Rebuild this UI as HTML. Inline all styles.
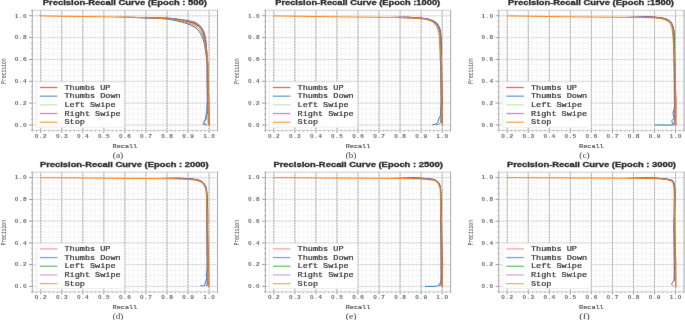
<!DOCTYPE html><html><head><meta charset="utf-8"><style>html,body{margin:0;padding:0;background:#fff;width:685px;height:320px;overflow:hidden}svg{display:block;will-change:transform}</style></head><body>
<svg xmlns="http://www.w3.org/2000/svg" width="685" height="320" viewBox="0 0 685 320">
<rect width="685" height="320" fill="#fff"/>
<defs><filter id="bl" x="0" y="0" width="685" height="320" filterUnits="userSpaceOnUse" color-interpolation-filters="sRGB"><feConvolveMatrix order="3" kernelMatrix="0.00345 0.05875 0.00345 0.05875 1.00000 0.05875 0.00345 0.05875 0.00345" edgeMode="duplicate" preserveAlpha="true"/></filter></defs>
<g filter="url(#bl)"><rect width="685" height="320" fill="#fff"/>
<g><defs><clipPath id="cp0"><rect x="32.3" y="10.3" width="185.2" height="120.1"/></clipPath></defs><path d="M32.3 10.3V130.4M36.51 10.3V130.4M44.93 10.3V130.4M49.14 10.3V130.4M53.35 10.3V130.4M57.55 10.3V130.4M65.97 10.3V130.4M70.18 10.3V130.4M74.39 10.3V130.4M78.6 10.3V130.4M87.02 10.3V130.4M91.23 10.3V130.4M95.44 10.3V130.4M99.65 10.3V130.4M108.06 10.3V130.4M112.27 10.3V130.4M116.48 10.3V130.4M120.69 10.3V130.4M129.11 10.3V130.4M133.32 10.3V130.4M137.53 10.3V130.4M141.74 10.3V130.4M150.15 10.3V130.4M154.36 10.3V130.4M158.57 10.3V130.4M162.78 10.3V130.4M171.2 10.3V130.4M175.41 10.3V130.4M179.62 10.3V130.4M183.83 10.3V130.4M192.25 10.3V130.4M196.45 10.3V130.4M200.66 10.3V130.4M204.87 10.3V130.4M213.29 10.3V130.4M217.5 10.3V130.4M32.3 130.4H217.5M32.3 119.48H217.5M32.3 114.02H217.5M32.3 108.56H217.5M32.3 97.65H217.5M32.3 92.19H217.5M32.3 86.73H217.5M32.3 75.81H217.5M32.3 70.35H217.5M32.3 64.89H217.5M32.3 53.97H217.5M32.3 48.51H217.5M32.3 43.05H217.5M32.3 32.14H217.5M32.3 26.68H217.5M32.3 21.22H217.5M32.3 10.3H217.5" stroke="#f0f0f0" stroke-width="0.7" fill="none"/><path d="M32.3 124.94H217.5M32.3 103.1H217.5M32.3 81.27H217.5M32.3 59.43H217.5M32.3 37.6H217.5M32.3 15.76H217.5" stroke="#e8e8e8" stroke-width="1" fill="none"/><path d="M32.3 124.94H217.5M32.3 103.1H217.5M32.3 81.27H217.5M32.3 59.43H217.5M32.3 37.6H217.5M32.3 15.76H217.5" stroke="#d0d0d0" stroke-width="1" stroke-dasharray="1.1 1.15" fill="none"/><path d="M40.72 10.3V130.4M61.76 10.3V130.4M82.81 10.3V130.4M103.85 10.3V130.4M124.9 10.3V130.4M145.95 10.3V130.4M166.99 10.3V130.4M188.04 10.3V130.4M209.08 10.3V130.4" stroke="#d2d2d2" stroke-width="1" fill="none"/><path d="M40.72 10.3V130.4M61.76 10.3V130.4M82.81 10.3V130.4M103.85 10.3V130.4M124.9 10.3V130.4M145.95 10.3V130.4M166.99 10.3V130.4M188.04 10.3V130.4M209.08 10.3V130.4" stroke="#a4a4a4" stroke-width="1" stroke-dasharray="1.3 1.5" fill="none"/><g clip-path="url(#cp0)" fill="none" stroke-width="1.0" stroke-linejoin="round" stroke-linecap="round"><defs><linearGradient id="lg0" gradientUnits="userSpaceOnUse" x1="114.38" y1="0" x2="135.42" y2="0"><stop offset="0" stop-color="#000"/><stop offset="1" stop-color="#fff"/></linearGradient><mask id="mk0" maskUnits="userSpaceOnUse" x="0" y="0" width="685" height="320"><rect x="0" y="0" width="685" height="320" fill="url(#lg0)"/></mask></defs><g mask="url(#mk0)"><path d="M114.38 17.07C120.34 17.2 140.89 17.6 150.15 17.83C159.41 18.07 164.57 18.05 169.94 18.49C175.3 18.93 179.23 19.91 182.35 20.45C185.48 21 186.56 21.18 188.67 21.76C190.77 22.35 192.91 22.82 194.98 23.95C197.05 25.08 199.54 26.51 201.08 28.53C202.63 30.55 203.43 33.46 204.24 36.07C205.05 38.67 205.47 41.16 205.93 44.15C206.38 47.13 206.72 50.7 206.98 53.97C207.24 57.25 207.33 60.16 207.49 63.8C207.65 67.44 207.76 71.08 207.94 75.81C208.11 80.54 208.38 88 208.54 92.19C208.69 96.37 208.75 95.5 208.86 100.92C208.97 106.34 209.15 120.76 209.21 124.72" stroke="#d62728"/><path d="M114.38 17.07C120.34 17.2 140.89 17.42 150.15 17.83C159.41 18.25 164.57 18.83 169.94 19.58C175.3 20.33 179.23 21.55 182.35 22.31C185.48 23.07 186.56 23.33 188.67 24.17C190.77 25 193.3 26.19 194.98 27.33C196.67 28.48 197.61 29.59 198.77 31.04C199.93 32.5 201.05 34.17 201.93 36.07C202.8 37.96 203.47 40.09 204.03 42.4C204.59 44.71 204.77 46.37 205.29 49.93C205.82 53.5 206.84 59.49 207.18 63.8C207.51 68.11 207.25 71.08 207.29 75.81C207.34 80.54 207.41 88 207.45 92.19C207.49 96.37 207.58 98.25 207.53 100.92C207.49 103.6 207.15 106.36 207.15 108.24C207.16 110.11 207.75 110.84 207.57 112.17C207.4 113.5 206.28 115.19 206.1 116.21C205.93 117.23 206.77 117.44 206.52 118.28C206.28 119.12 205.12 120.48 204.63 121.23C204.14 121.97 203.51 122.41 203.58 122.76C203.65 123.1 204.8 123.21 205.05 123.3" stroke="#1f77b4"/><path d="M114.38 17.07C120.34 17.2 140.89 17.62 150.15 17.83C159.41 18.05 164.57 18 169.94 18.38C175.3 18.76 179.23 19.65 182.35 20.13C185.48 20.6 186.56 20.78 188.67 21.22C190.77 21.65 193.12 21.84 194.98 22.75C196.84 23.66 198.38 24.98 199.82 26.68C201.26 28.37 202.66 30.72 203.61 32.9C204.56 35.08 205.01 36.99 205.5 39.78C206 42.56 206.18 45.6 206.56 49.61C206.93 53.61 207.55 59.43 207.77 63.8C207.99 68.17 207.84 71.08 207.88 75.81C207.93 80.54 208 88 208.04 92.19C208.08 96.37 208.11 96.24 208.12 100.92C208.14 105.6 208.05 116.35 208.12 120.25C208.19 124.14 208.48 123.61 208.55 124.29" stroke="#2ca02c"/><path d="M114.38 17.07C120.34 17.2 140.89 17.63 150.15 17.83C159.41 18.03 164.57 17.94 169.94 18.27C175.3 18.6 179.23 19.38 182.35 19.8C185.48 20.22 186.56 20.36 188.67 20.78C190.77 21.2 193.12 21.55 194.98 22.31C196.84 23.07 198.49 24.11 199.82 25.37C201.15 26.62 202.14 28.28 202.98 29.84C203.82 31.41 204.38 32.88 204.87 34.76C205.36 36.63 205.68 38.56 205.93 41.09C206.17 43.62 206.19 46.15 206.35 49.93C206.5 53.72 206.76 59.49 206.86 63.8C206.97 68.11 206.93 71.08 206.98 75.81C207.02 80.54 207.09 88 207.14 92.19C207.18 96.37 207.3 97.92 207.22 100.92C207.14 103.92 206.86 107.82 206.66 110.2C206.47 112.59 206.31 113.55 206.03 115.22C205.75 116.9 205.47 118.74 204.98 120.25C204.49 121.76 202.74 123.54 203.09 124.29C203.44 125.03 206.42 124.65 207.09 124.72" stroke="#9467bd"/></g><path d="M40.72 15.32C41.6 15.43 35.46 15.72 45.98 15.98C56.5 16.23 86.49 16.54 103.85 16.85C121.22 17.16 139.14 17.45 150.15 17.83C161.17 18.22 164.57 18.58 169.94 19.14C175.3 19.71 179.23 20.53 182.35 21.22C185.48 21.91 186.56 22.6 188.67 23.29C190.77 23.98 193.12 24.28 194.98 25.37C196.84 26.46 198.56 28.26 199.82 29.84C201.08 31.43 201.75 32.99 202.56 34.87C203.36 36.74 204.14 38.58 204.66 41.09C205.19 43.6 205.16 46.15 205.71 49.93C206.27 53.72 207.62 59.49 208.02 63.8C208.42 68.11 208.09 71.08 208.13 75.81C208.18 80.54 208.25 88 208.29 92.19C208.33 96.37 208.27 95.41 208.38 100.92C208.48 106.43 208.82 121.21 208.9 125.27" stroke="#ff7f0e"/></g><path d="M31.9 10.3H217.9M31.9 130.4H217.9" stroke="#c8c8c8" stroke-width="0.8" fill="none"/><path d="M32.3 9.9V130.8M217.5 9.9V130.8" stroke="#a0a0a0" stroke-width="0.9" fill="none"/><path d="M40.72 130.4v2.5M61.76 130.4v2.5M82.81 130.4v2.5M103.85 130.4v2.5M124.9 130.4v2.5M145.95 130.4v2.5M166.99 130.4v2.5M188.04 130.4v2.5M209.08 130.4v2.5M32.3 124.94h-3.3M32.3 103.1h-3.3M32.3 81.27h-3.3M32.3 59.43h-3.3M32.3 37.6h-3.3M32.3 15.76h-3.3" stroke="#808080" stroke-width="0.8" fill="none"/><path d="M32.3 130.4v1.4M36.51 130.4v1.4M44.93 130.4v1.4M49.14 130.4v1.4M53.35 130.4v1.4M57.55 130.4v1.4M65.97 130.4v1.4M70.18 130.4v1.4M74.39 130.4v1.4M78.6 130.4v1.4M87.02 130.4v1.4M91.23 130.4v1.4M95.44 130.4v1.4M99.65 130.4v1.4M108.06 130.4v1.4M112.27 130.4v1.4M116.48 130.4v1.4M120.69 130.4v1.4M129.11 130.4v1.4M133.32 130.4v1.4M137.53 130.4v1.4M141.74 130.4v1.4M150.15 130.4v1.4M154.36 130.4v1.4M158.57 130.4v1.4M162.78 130.4v1.4M171.2 130.4v1.4M175.41 130.4v1.4M179.62 130.4v1.4M183.83 130.4v1.4M192.25 130.4v1.4M196.45 130.4v1.4M200.66 130.4v1.4M204.87 130.4v1.4M213.29 130.4v1.4M217.5 130.4v1.4M32.3 130.4h-1.4M32.3 119.48h-1.4M32.3 114.02h-1.4M32.3 108.56h-1.4M32.3 97.65h-1.4M32.3 92.19h-1.4M32.3 86.73h-1.4M32.3 75.81h-1.4M32.3 70.35h-1.4M32.3 64.89h-1.4M32.3 53.97h-1.4M32.3 48.51h-1.4M32.3 43.05h-1.4M32.3 32.14h-1.4M32.3 26.68h-1.4M32.3 21.22h-1.4M32.3 10.3h-1.4" stroke="#909090" stroke-width="0.6" fill="none"/><g font-family="Liberation Sans" font-weight="bold" font-size="5.0" text-anchor="middle" fill="#686868" stroke="#686868" stroke-width="0"><text transform="translate(36.67 137.5) scale(1.3 1)" x="0 3.12 6.23">0.2</text><text transform="translate(57.71 137.5) scale(1.3 1)" x="0 3.12 6.23">0.3</text><text transform="translate(78.76 137.5) scale(1.3 1)" x="0 3.12 6.23">0.4</text><text transform="translate(99.8 137.5) scale(1.3 1)" x="0 3.12 6.23">0.5</text><text transform="translate(120.85 137.5) scale(1.3 1)" x="0 3.12 6.23">0.6</text><text transform="translate(141.9 137.5) scale(1.3 1)" x="0 3.12 6.23">0.7</text><text transform="translate(162.94 137.5) scale(1.3 1)" x="0 3.12 6.23">0.8</text><text transform="translate(183.99 137.5) scale(1.3 1)" x="0 3.12 6.23">0.9</text><text transform="translate(205.03 137.5) scale(1.3 1)" x="0 3.12 6.23">1.0</text><text transform="translate(16.67 126.74) scale(1.3 1)" x="0 3.12 6.23">0.0</text><text transform="translate(16.67 104.9) scale(1.3 1)" x="0 3.12 6.23">0.2</text><text transform="translate(16.67 83.07) scale(1.3 1)" x="0 3.12 6.23">0.4</text><text transform="translate(16.67 61.23) scale(1.3 1)" x="0 3.12 6.23">0.6</text><text transform="translate(16.67 39.4) scale(1.3 1)" x="0 3.12 6.23">0.8</text><text transform="translate(16.67 17.56) scale(1.3 1)" x="0 3.12 6.23">1.0</text></g><rect x="36.25" y="82" width="88" height="45.2" rx="1.5" fill="#fff" fill-opacity="0.95" stroke="#e6e6e6" stroke-width="0.7"/><path d="M39.8 87.5H57.3" stroke="#e46868" stroke-width="1.3"/><text x="64.5" y="89.7" font-family="Liberation Mono" font-size="6.9" font-weight="normal" fill="#2e2e2e" stroke="#2e2e2e" stroke-width="0.2" textLength="45.9" lengthAdjust="spacingAndGlyphs">Thumbs UP</text><path d="M39.8 96.18H57.3" stroke="#6a9fd2" stroke-width="1.3"/><text x="64.5" y="98.38" font-family="Liberation Mono" font-size="6.9" font-weight="normal" fill="#2e2e2e" stroke="#2e2e2e" stroke-width="0.2" textLength="56.1" lengthAdjust="spacingAndGlyphs">Thumbs Down</text><path d="M39.8 104.86H57.3" stroke="#c6e6c0" stroke-width="1.3"/><text x="64.5" y="107.06" font-family="Liberation Mono" font-size="6.9" font-weight="normal" fill="#2e2e2e" stroke="#2e2e2e" stroke-width="0.2" textLength="51" lengthAdjust="spacingAndGlyphs">Left Swipe</text><path d="M39.8 113.54H57.3" stroke="#bc8fd2" stroke-width="1.3"/><text x="64.5" y="115.74" font-family="Liberation Mono" font-size="6.9" font-weight="normal" fill="#2e2e2e" stroke="#2e2e2e" stroke-width="0.2" textLength="56.1" lengthAdjust="spacingAndGlyphs">Right Swipe</text><path d="M39.8 122.22H57.3" stroke="#ffa54d" stroke-width="1.3"/><text x="64.5" y="124.42" font-family="Liberation Mono" font-size="6.9" font-weight="normal" fill="#2e2e2e" stroke="#2e2e2e" stroke-width="0.2" textLength="20.4" lengthAdjust="spacingAndGlyphs">Stop</text><text x="42.8" y="5.25" font-family="Liberation Sans" font-weight="bold" font-size="6.9" fill="#2a2a2a" stroke="#2a2a2a" stroke-width="0.3" textLength="164.1" lengthAdjust="spacingAndGlyphs">Precision-Recall Curve (Epoch : 500)</text><text x="124.9" y="147.5" text-anchor="middle" font-family="Liberation Mono" font-size="5.8" fill="#444" stroke="#444" stroke-width="0.12" textLength="24.6" lengthAdjust="spacingAndGlyphs">Recall</text><text transform="translate(6 71.05) rotate(-90)" x="0" y="0" text-anchor="middle" font-family="Liberation Mono" font-size="7.0" fill="#4a4a4a" textLength="25.3" lengthAdjust="spacingAndGlyphs">Precision</text><text x="118" y="157.6" text-anchor="middle" font-family="Liberation Serif" font-size="7.4" fill="#383838" textLength="10.5" lengthAdjust="spacingAndGlyphs">(a)</text></g>
<g><defs><clipPath id="cp1"><rect x="265.4" y="10.3" width="185.2" height="120.1"/></clipPath></defs><path d="M265.4 10.3V130.4M269.61 10.3V130.4M278.03 10.3V130.4M282.24 10.3V130.4M286.45 10.3V130.4M290.65 10.3V130.4M299.07 10.3V130.4M303.28 10.3V130.4M307.49 10.3V130.4M311.7 10.3V130.4M320.12 10.3V130.4M324.33 10.3V130.4M328.54 10.3V130.4M332.75 10.3V130.4M341.16 10.3V130.4M345.37 10.3V130.4M349.58 10.3V130.4M353.79 10.3V130.4M362.21 10.3V130.4M366.42 10.3V130.4M370.63 10.3V130.4M374.84 10.3V130.4M383.25 10.3V130.4M387.46 10.3V130.4M391.67 10.3V130.4M395.88 10.3V130.4M404.3 10.3V130.4M408.51 10.3V130.4M412.72 10.3V130.4M416.93 10.3V130.4M425.35 10.3V130.4M429.55 10.3V130.4M433.76 10.3V130.4M437.97 10.3V130.4M446.39 10.3V130.4M450.6 10.3V130.4M265.4 130.4H450.6M265.4 119.48H450.6M265.4 114.02H450.6M265.4 108.56H450.6M265.4 97.65H450.6M265.4 92.19H450.6M265.4 86.73H450.6M265.4 75.81H450.6M265.4 70.35H450.6M265.4 64.89H450.6M265.4 53.97H450.6M265.4 48.51H450.6M265.4 43.05H450.6M265.4 32.14H450.6M265.4 26.68H450.6M265.4 21.22H450.6M265.4 10.3H450.6" stroke="#f0f0f0" stroke-width="0.7" fill="none"/><path d="M265.4 124.94H450.6M265.4 103.1H450.6M265.4 81.27H450.6M265.4 59.43H450.6M265.4 37.6H450.6M265.4 15.76H450.6" stroke="#e8e8e8" stroke-width="1" fill="none"/><path d="M265.4 124.94H450.6M265.4 103.1H450.6M265.4 81.27H450.6M265.4 59.43H450.6M265.4 37.6H450.6M265.4 15.76H450.6" stroke="#d0d0d0" stroke-width="1" stroke-dasharray="1.1 1.15" fill="none"/><path d="M273.82 10.3V130.4M294.86 10.3V130.4M315.91 10.3V130.4M336.95 10.3V130.4M358 10.3V130.4M379.05 10.3V130.4M400.09 10.3V130.4M421.14 10.3V130.4M442.18 10.3V130.4" stroke="#d2d2d2" stroke-width="1" fill="none"/><path d="M273.82 10.3V130.4M294.86 10.3V130.4M315.91 10.3V130.4M336.95 10.3V130.4M358 10.3V130.4M379.05 10.3V130.4M400.09 10.3V130.4M421.14 10.3V130.4M442.18 10.3V130.4" stroke="#a4a4a4" stroke-width="1" stroke-dasharray="1.3 1.5" fill="none"/><g clip-path="url(#cp1)" fill="none" stroke-width="1.0" stroke-linejoin="round" stroke-linecap="round"><defs><linearGradient id="lg1" gradientUnits="userSpaceOnUse" x1="389.57" y1="0" x2="410.61" y2="0"><stop offset="0" stop-color="#000"/><stop offset="1" stop-color="#fff"/></linearGradient><mask id="mk1" maskUnits="userSpaceOnUse" x="0" y="0" width="685" height="320"><rect x="0" y="0" width="685" height="320" fill="url(#lg1)"/></mask></defs><g mask="url(#mk1)"><path d="M389.57 17.39C391.32 17.28 395.36 16.65 400.09 16.74C404.83 16.83 413.45 17.58 417.98 17.94C422.5 18.31 424.75 18.45 427.24 18.93C429.73 19.4 431.34 20.07 432.92 20.78C434.5 21.49 435.69 22.16 436.71 23.18C437.73 24.2 438.43 25.64 439.02 26.9C439.62 28.15 439.97 28.93 440.29 30.72C440.6 32.5 440.74 32.81 440.92 37.6C441.09 42.38 441.29 55.06 441.34 59.43C441.39 63.8 441.17 61.07 441.22 63.8C441.28 66.53 441.49 71.08 441.67 75.81C441.84 80.54 442.12 88 442.27 92.19C442.42 96.37 442.57 95.46 442.59 100.92C442.61 106.38 442.43 120.94 442.39 124.94" stroke="#d62728"/><path d="M389.57 17.39C394.3 17.52 411.7 17.85 417.98 18.16C424.26 18.47 424.75 18.71 427.24 19.25C429.73 19.8 431.34 20.56 432.92 21.44C434.5 22.31 435.73 23.26 436.71 24.49C437.69 25.73 438.29 27.04 438.81 28.86C439.34 30.68 439.62 30.32 439.87 35.41C440.11 40.51 440.11 54.7 440.29 59.43C440.46 64.16 440.79 61.07 440.91 63.8C441.03 66.53 440.98 71.08 441.02 75.81C441.07 80.54 441.14 88 441.18 92.19C441.22 96.37 441.3 98.37 441.27 100.92C441.24 103.47 441.15 105.65 441 107.47C440.85 109.29 440.4 110.57 440.36 111.84C440.33 113.11 441.03 114.02 440.79 115.11C440.54 116.21 439.35 117.3 438.89 118.39C438.44 119.48 438.51 120.76 438.05 121.67C437.59 122.58 437.03 123.34 436.16 123.85C435.28 124.36 433.35 124.58 432.79 124.72" stroke="#1f77b4"/><path d="M389.57 17.39C394.3 17.5 411.7 17.76 417.98 18.05C424.26 18.34 424.75 18.62 427.24 19.14C429.73 19.67 431.31 20.42 432.92 21.22C434.54 22.02 435.87 22.86 436.92 23.95C437.97 25.04 438.64 26.22 439.24 27.77C439.83 29.32 440.18 30.68 440.5 33.23C440.81 35.78 440.96 37.96 441.13 43.05C441.3 48.15 441.42 58.34 441.5 63.8C441.58 69.26 441.57 71.08 441.61 75.81C441.66 80.54 441.73 88 441.77 92.19C441.81 96.37 441.84 97.28 441.86 100.92C441.87 104.56 441.93 110.38 441.86 114.02C441.79 117.66 441.5 121.3 441.43 122.76" stroke="#2ca02c"/><path d="M389.57 17.39C391.32 17.28 395.36 16.65 400.09 16.74C404.83 16.83 413.45 17.58 417.98 17.94C422.5 18.31 424.75 18.45 427.24 18.93C429.73 19.4 431.34 20.07 432.92 20.78C434.5 21.49 435.69 22.16 436.71 23.18C437.73 24.2 438.46 25.59 439.02 26.9C439.59 28.21 439.83 29.26 440.08 31.04C440.32 32.83 440.41 32.14 440.5 37.6C440.58 43.05 440.56 57.43 440.59 63.8C440.63 70.17 440.66 71.08 440.71 75.81C440.75 80.54 440.83 88 440.87 92.19C440.91 96.37 440.94 99.1 440.95 100.92C440.96 102.74 440.99 100.92 440.95 103.1C440.92 105.29 440.85 110.75 440.74 114.02C440.63 117.3 441.09 120.99 440.32 122.76C439.55 124.52 436.81 124.3 436.11 124.61" stroke="#9467bd"/></g><path d="M273.82 15.87C284.34 16.03 319.28 16.61 336.95 16.85C354.63 17.09 369.36 17.18 379.89 17.29C390.41 17.4 393.74 17.31 400.09 17.51C406.44 17.71 413.45 18.11 417.98 18.49C422.5 18.87 424.75 19.18 427.24 19.8C429.73 20.42 431.41 21.16 432.92 22.2C434.43 23.24 435.45 24.77 436.29 26.02C437.13 27.28 437.48 28.17 437.97 29.73C438.46 31.3 438.95 33.06 439.24 35.41C439.52 37.76 439.24 39.09 439.66 43.82C440.08 48.55 441.38 58.47 441.75 63.8C442.12 69.13 441.82 71.08 441.87 75.81C441.91 80.54 441.98 88 442.02 92.19C442.06 96.37 442.08 99.1 442.11 100.92C442.13 102.74 442.13 99.1 442.18 103.1C442.23 107.11 442.36 121.3 442.39 124.94" stroke="#ff7f0e"/></g><path d="M265 10.3H451M265 130.4H451" stroke="#c8c8c8" stroke-width="0.8" fill="none"/><path d="M265.4 9.9V130.8M450.6 9.9V130.8" stroke="#a0a0a0" stroke-width="0.9" fill="none"/><path d="M273.82 130.4v2.5M294.86 130.4v2.5M315.91 130.4v2.5M336.95 130.4v2.5M358 130.4v2.5M379.05 130.4v2.5M400.09 130.4v2.5M421.14 130.4v2.5M442.18 130.4v2.5M265.4 124.94h-3.3M265.4 103.1h-3.3M265.4 81.27h-3.3M265.4 59.43h-3.3M265.4 37.6h-3.3M265.4 15.76h-3.3" stroke="#808080" stroke-width="0.8" fill="none"/><path d="M265.4 130.4v1.4M269.61 130.4v1.4M278.03 130.4v1.4M282.24 130.4v1.4M286.45 130.4v1.4M290.65 130.4v1.4M299.07 130.4v1.4M303.28 130.4v1.4M307.49 130.4v1.4M311.7 130.4v1.4M320.12 130.4v1.4M324.33 130.4v1.4M328.54 130.4v1.4M332.75 130.4v1.4M341.16 130.4v1.4M345.37 130.4v1.4M349.58 130.4v1.4M353.79 130.4v1.4M362.21 130.4v1.4M366.42 130.4v1.4M370.63 130.4v1.4M374.84 130.4v1.4M383.25 130.4v1.4M387.46 130.4v1.4M391.67 130.4v1.4M395.88 130.4v1.4M404.3 130.4v1.4M408.51 130.4v1.4M412.72 130.4v1.4M416.93 130.4v1.4M425.35 130.4v1.4M429.55 130.4v1.4M433.76 130.4v1.4M437.97 130.4v1.4M446.39 130.4v1.4M450.6 130.4v1.4M265.4 130.4h-1.4M265.4 119.48h-1.4M265.4 114.02h-1.4M265.4 108.56h-1.4M265.4 97.65h-1.4M265.4 92.19h-1.4M265.4 86.73h-1.4M265.4 75.81h-1.4M265.4 70.35h-1.4M265.4 64.89h-1.4M265.4 53.97h-1.4M265.4 48.51h-1.4M265.4 43.05h-1.4M265.4 32.14h-1.4M265.4 26.68h-1.4M265.4 21.22h-1.4M265.4 10.3h-1.4" stroke="#909090" stroke-width="0.6" fill="none"/><g font-family="Liberation Sans" font-weight="bold" font-size="5.0" text-anchor="middle" fill="#686868" stroke="#686868" stroke-width="0"><text transform="translate(269.77 137.5) scale(1.3 1)" x="0 3.12 6.23">0.2</text><text transform="translate(290.81 137.5) scale(1.3 1)" x="0 3.12 6.23">0.3</text><text transform="translate(311.86 137.5) scale(1.3 1)" x="0 3.12 6.23">0.4</text><text transform="translate(332.9 137.5) scale(1.3 1)" x="0 3.12 6.23">0.5</text><text transform="translate(353.95 137.5) scale(1.3 1)" x="0 3.12 6.23">0.6</text><text transform="translate(375 137.5) scale(1.3 1)" x="0 3.12 6.23">0.7</text><text transform="translate(396.04 137.5) scale(1.3 1)" x="0 3.12 6.23">0.8</text><text transform="translate(417.09 137.5) scale(1.3 1)" x="0 3.12 6.23">0.9</text><text transform="translate(438.13 137.5) scale(1.3 1)" x="0 3.12 6.23">1.0</text><text transform="translate(249.77 126.74) scale(1.3 1)" x="0 3.12 6.23">0.0</text><text transform="translate(249.77 104.9) scale(1.3 1)" x="0 3.12 6.23">0.2</text><text transform="translate(249.77 83.07) scale(1.3 1)" x="0 3.12 6.23">0.4</text><text transform="translate(249.77 61.23) scale(1.3 1)" x="0 3.12 6.23">0.6</text><text transform="translate(249.77 39.4) scale(1.3 1)" x="0 3.12 6.23">0.8</text><text transform="translate(249.77 17.56) scale(1.3 1)" x="0 3.12 6.23">1.0</text></g><rect x="269.35" y="82" width="88" height="45.2" rx="1.5" fill="#fff" fill-opacity="0.95" stroke="#e6e6e6" stroke-width="0.7"/><path d="M272.9 87.5H290.4" stroke="#e46868" stroke-width="1.3"/><text x="297.6" y="89.7" font-family="Liberation Mono" font-size="6.9" font-weight="normal" fill="#2e2e2e" stroke="#2e2e2e" stroke-width="0.2" textLength="45.9" lengthAdjust="spacingAndGlyphs">Thumbs UP</text><path d="M272.9 96.18H290.4" stroke="#6a9fd2" stroke-width="1.3"/><text x="297.6" y="98.38" font-family="Liberation Mono" font-size="6.9" font-weight="normal" fill="#2e2e2e" stroke="#2e2e2e" stroke-width="0.2" textLength="56.1" lengthAdjust="spacingAndGlyphs">Thumbs Down</text><path d="M272.9 104.86H290.4" stroke="#c6e6c0" stroke-width="1.3"/><text x="297.6" y="107.06" font-family="Liberation Mono" font-size="6.9" font-weight="normal" fill="#2e2e2e" stroke="#2e2e2e" stroke-width="0.2" textLength="51" lengthAdjust="spacingAndGlyphs">Left Swipe</text><path d="M272.9 113.54H290.4" stroke="#bc8fd2" stroke-width="1.3"/><text x="297.6" y="115.74" font-family="Liberation Mono" font-size="6.9" font-weight="normal" fill="#2e2e2e" stroke="#2e2e2e" stroke-width="0.2" textLength="56.1" lengthAdjust="spacingAndGlyphs">Right Swipe</text><path d="M272.9 122.22H290.4" stroke="#ffa54d" stroke-width="1.3"/><text x="297.6" y="124.42" font-family="Liberation Mono" font-size="6.9" font-weight="normal" fill="#2e2e2e" stroke="#2e2e2e" stroke-width="0.2" textLength="20.4" lengthAdjust="spacingAndGlyphs">Stop</text><text x="275.2" y="5.25" font-family="Liberation Sans" font-weight="bold" font-size="6.9" fill="#2a2a2a" stroke="#2a2a2a" stroke-width="0.3" textLength="165" lengthAdjust="spacingAndGlyphs">Precision-Recall Curve (Epoch :1000)</text><text x="358" y="147.5" text-anchor="middle" font-family="Liberation Mono" font-size="5.8" fill="#444" stroke="#444" stroke-width="0.12" textLength="24.6" lengthAdjust="spacingAndGlyphs">Recall</text><text transform="translate(239.1 71.05) rotate(-90)" x="0" y="0" text-anchor="middle" font-family="Liberation Mono" font-size="7.0" fill="#4a4a4a" textLength="25.3" lengthAdjust="spacingAndGlyphs">Precision</text><text x="351.1" y="157.6" text-anchor="middle" font-family="Liberation Serif" font-size="7.4" fill="#383838" textLength="10.5" lengthAdjust="spacingAndGlyphs">(b)</text></g>
<g><defs><clipPath id="cp2"><rect x="498.8" y="10.3" width="185.2" height="120.1"/></clipPath></defs><path d="M498.8 10.3V130.4M503.01 10.3V130.4M511.43 10.3V130.4M515.64 10.3V130.4M519.85 10.3V130.4M524.05 10.3V130.4M532.47 10.3V130.4M536.68 10.3V130.4M540.89 10.3V130.4M545.1 10.3V130.4M553.52 10.3V130.4M557.73 10.3V130.4M561.94 10.3V130.4M566.15 10.3V130.4M574.56 10.3V130.4M578.77 10.3V130.4M582.98 10.3V130.4M587.19 10.3V130.4M595.61 10.3V130.4M599.82 10.3V130.4M604.03 10.3V130.4M608.24 10.3V130.4M616.65 10.3V130.4M620.86 10.3V130.4M625.07 10.3V130.4M629.28 10.3V130.4M637.7 10.3V130.4M641.91 10.3V130.4M646.12 10.3V130.4M650.33 10.3V130.4M658.75 10.3V130.4M662.95 10.3V130.4M667.16 10.3V130.4M671.37 10.3V130.4M679.79 10.3V130.4M684 10.3V130.4M498.8 130.4H684M498.8 119.48H684M498.8 114.02H684M498.8 108.56H684M498.8 97.65H684M498.8 92.19H684M498.8 86.73H684M498.8 75.81H684M498.8 70.35H684M498.8 64.89H684M498.8 53.97H684M498.8 48.51H684M498.8 43.05H684M498.8 32.14H684M498.8 26.68H684M498.8 21.22H684M498.8 10.3H684" stroke="#f0f0f0" stroke-width="0.7" fill="none"/><path d="M498.8 124.94H684M498.8 103.1H684M498.8 81.27H684M498.8 59.43H684M498.8 37.6H684M498.8 15.76H684" stroke="#e8e8e8" stroke-width="1" fill="none"/><path d="M498.8 124.94H684M498.8 103.1H684M498.8 81.27H684M498.8 59.43H684M498.8 37.6H684M498.8 15.76H684" stroke="#d0d0d0" stroke-width="1" stroke-dasharray="1.1 1.15" fill="none"/><path d="M507.22 10.3V130.4M528.26 10.3V130.4M549.31 10.3V130.4M570.35 10.3V130.4M591.4 10.3V130.4M612.45 10.3V130.4M633.49 10.3V130.4M654.54 10.3V130.4M675.58 10.3V130.4" stroke="#d2d2d2" stroke-width="1" fill="none"/><path d="M507.22 10.3V130.4M528.26 10.3V130.4M549.31 10.3V130.4M570.35 10.3V130.4M591.4 10.3V130.4M612.45 10.3V130.4M633.49 10.3V130.4M654.54 10.3V130.4M675.58 10.3V130.4" stroke="#a4a4a4" stroke-width="1" stroke-dasharray="1.3 1.5" fill="none"/><g clip-path="url(#cp2)" fill="none" stroke-width="1.0" stroke-linejoin="round" stroke-linecap="round"><defs><linearGradient id="lg2" gradientUnits="userSpaceOnUse" x1="622.97" y1="0" x2="644.01" y2="0"><stop offset="0" stop-color="#000"/><stop offset="1" stop-color="#fff"/></linearGradient><mask id="mk2" maskUnits="userSpaceOnUse" x="0" y="0" width="685" height="320"><rect x="0" y="0" width="685" height="320" fill="url(#lg2)"/></mask></defs><g mask="url(#mk2)"><path d="M622.97 17.33C624.13 17.22 625.42 16.69 629.91 16.63C634.4 16.57 644.89 16.78 649.91 16.96C654.92 17.14 657.34 17.4 660.01 17.72C662.67 18.05 664.32 18.42 665.9 18.93C667.48 19.43 668.57 20.14 669.48 20.78C670.39 21.42 670.85 21.91 671.37 22.75C671.9 23.58 672.25 24.62 672.64 25.8C673.02 26.99 673.44 28.01 673.69 29.84C673.93 31.68 673.97 31.9 674.11 36.83C674.25 41.76 674.44 54.94 674.53 59.43C674.62 63.93 674.53 61.07 674.62 63.8C674.71 66.53 674.89 71.08 675.07 75.81C675.24 80.54 675.52 88 675.67 92.19C675.82 96.37 675.97 95.46 675.99 100.92C676.01 106.38 675.83 120.94 675.79 124.94" stroke="#d62728"/><path d="M622.97 17.33C624.13 17.23 625.42 16.77 629.91 16.74C634.4 16.72 644.89 16.96 649.91 17.18C654.92 17.4 657.34 17.69 660.01 18.05C662.67 18.42 664.32 18.8 665.9 19.36C667.48 19.93 668.57 20.73 669.48 21.44C670.39 22.15 670.85 22.75 671.37 23.62C671.9 24.49 672.28 25.44 672.64 26.68C672.99 27.91 673.27 29.22 673.48 31.04C673.69 32.86 673.76 32.14 673.9 37.6C674.04 43.05 674.22 57.43 674.31 63.8C674.4 70.17 674.38 71.08 674.42 75.81C674.47 80.54 674.54 88 674.58 92.19C674.62 96.37 674.65 99.1 674.67 100.92C674.68 102.74 674.7 101.89 674.67 103.1C674.63 104.32 674.74 106.54 674.46 108.24C674.18 109.93 673.05 111.58 672.98 113.26C672.91 114.93 674.21 117.12 674.03 118.28C673.86 119.45 672.21 119.43 671.93 120.25C671.65 121.06 672.21 122.41 672.35 123.19C672.49 123.98 675.61 124.65 672.77 124.94C669.93 125.23 658.22 124.94 655.3 124.94" stroke="#1f77b4"/><path d="M622.97 17.33C624.13 17.23 625.42 16.79 629.91 16.74C634.4 16.7 644.89 16.87 649.91 17.07C654.92 17.27 657.34 17.58 660.01 17.94C662.67 18.31 664.32 18.71 665.9 19.25C667.48 19.8 668.53 20.53 669.48 21.22C670.43 21.91 670.99 22.49 671.58 23.4C672.18 24.31 672.67 25.4 673.06 26.68C673.44 27.95 673.69 29.22 673.9 31.04C674.11 32.86 674.15 32.14 674.32 37.6C674.49 43.05 674.78 57.43 674.9 63.8C675.01 70.17 674.97 71.08 675.01 75.81C675.06 80.54 675.13 88 675.17 92.19C675.21 96.37 675.24 97.28 675.26 100.92C675.27 104.56 675.29 110.38 675.26 114.02C675.22 117.66 675.08 121.3 675.05 122.76" stroke="#2ca02c"/><path d="M622.97 17.33C624.13 17.22 625.42 16.69 629.91 16.63C634.4 16.57 644.89 16.78 649.91 16.96C654.92 17.14 657.34 17.4 660.01 17.72C662.67 18.05 664.32 18.42 665.9 18.93C667.48 19.43 668.57 20.14 669.48 20.78C670.39 21.42 670.88 21.91 671.37 22.75C671.86 23.58 672.14 24.62 672.42 25.8C672.71 26.99 672.92 28.01 673.06 29.84C673.2 31.68 673.11 31.17 673.27 36.83C673.42 42.49 673.85 57.3 673.99 63.8C674.13 70.3 674.06 71.08 674.11 75.81C674.15 80.54 674.23 88 674.27 92.19C674.31 96.37 674.34 99.1 674.35 100.92C674.36 102.74 674.34 99.5 674.34 103.1C674.33 106.71 674.51 119.1 674.34 122.54C674.16 125.98 672.97 123.45 673.28 123.74C673.6 124.03 675.74 124.19 676.23 124.29" stroke="#9467bd"/></g><path d="M507.22 15.87C517.74 16.03 549.91 16.6 570.35 16.85C590.8 17.11 616.65 17.25 629.91 17.4C643.17 17.54 644.89 17.54 649.91 17.72C654.92 17.91 657.34 18.07 660.01 18.49C662.67 18.91 664.32 19.53 665.9 20.24C667.48 20.95 668.6 21.82 669.48 22.75C670.36 23.67 670.71 24.62 671.16 25.8C671.62 26.99 671.9 28.01 672.21 29.84C672.53 31.68 672.85 34.5 673.06 36.83C673.27 39.16 673.13 39.32 673.48 43.82C673.83 48.31 674.85 58.47 675.15 63.8C675.45 69.13 675.22 71.08 675.27 75.81C675.31 80.54 675.38 88 675.42 92.19C675.46 96.37 675.48 99.1 675.51 100.92C675.53 102.74 675.52 99.1 675.56 103.1C675.61 107.11 675.75 121.3 675.79 124.94" stroke="#ff7f0e"/></g><path d="M498.4 10.3H684.4M498.4 130.4H684.4" stroke="#c8c8c8" stroke-width="0.8" fill="none"/><path d="M498.8 9.9V130.8M684 9.9V130.8" stroke="#a0a0a0" stroke-width="0.9" fill="none"/><path d="M507.22 130.4v2.5M528.26 130.4v2.5M549.31 130.4v2.5M570.35 130.4v2.5M591.4 130.4v2.5M612.45 130.4v2.5M633.49 130.4v2.5M654.54 130.4v2.5M675.58 130.4v2.5M498.8 124.94h-3.3M498.8 103.1h-3.3M498.8 81.27h-3.3M498.8 59.43h-3.3M498.8 37.6h-3.3M498.8 15.76h-3.3" stroke="#808080" stroke-width="0.8" fill="none"/><path d="M498.8 130.4v1.4M503.01 130.4v1.4M511.43 130.4v1.4M515.64 130.4v1.4M519.85 130.4v1.4M524.05 130.4v1.4M532.47 130.4v1.4M536.68 130.4v1.4M540.89 130.4v1.4M545.1 130.4v1.4M553.52 130.4v1.4M557.73 130.4v1.4M561.94 130.4v1.4M566.15 130.4v1.4M574.56 130.4v1.4M578.77 130.4v1.4M582.98 130.4v1.4M587.19 130.4v1.4M595.61 130.4v1.4M599.82 130.4v1.4M604.03 130.4v1.4M608.24 130.4v1.4M616.65 130.4v1.4M620.86 130.4v1.4M625.07 130.4v1.4M629.28 130.4v1.4M637.7 130.4v1.4M641.91 130.4v1.4M646.12 130.4v1.4M650.33 130.4v1.4M658.75 130.4v1.4M662.95 130.4v1.4M667.16 130.4v1.4M671.37 130.4v1.4M679.79 130.4v1.4M684 130.4v1.4M498.8 130.4h-1.4M498.8 119.48h-1.4M498.8 114.02h-1.4M498.8 108.56h-1.4M498.8 97.65h-1.4M498.8 92.19h-1.4M498.8 86.73h-1.4M498.8 75.81h-1.4M498.8 70.35h-1.4M498.8 64.89h-1.4M498.8 53.97h-1.4M498.8 48.51h-1.4M498.8 43.05h-1.4M498.8 32.14h-1.4M498.8 26.68h-1.4M498.8 21.22h-1.4M498.8 10.3h-1.4" stroke="#909090" stroke-width="0.6" fill="none"/><g font-family="Liberation Sans" font-weight="bold" font-size="5.0" text-anchor="middle" fill="#686868" stroke="#686868" stroke-width="0"><text transform="translate(503.17 137.5) scale(1.3 1)" x="0 3.12 6.23">0.2</text><text transform="translate(524.21 137.5) scale(1.3 1)" x="0 3.12 6.23">0.3</text><text transform="translate(545.26 137.5) scale(1.3 1)" x="0 3.12 6.23">0.4</text><text transform="translate(566.3 137.5) scale(1.3 1)" x="0 3.12 6.23">0.5</text><text transform="translate(587.35 137.5) scale(1.3 1)" x="0 3.12 6.23">0.6</text><text transform="translate(608.4 137.5) scale(1.3 1)" x="0 3.12 6.23">0.7</text><text transform="translate(629.44 137.5) scale(1.3 1)" x="0 3.12 6.23">0.8</text><text transform="translate(650.49 137.5) scale(1.3 1)" x="0 3.12 6.23">0.9</text><text transform="translate(671.53 137.5) scale(1.3 1)" x="0 3.12 6.23">1.0</text><text transform="translate(483.18 126.74) scale(1.3 1)" x="0 3.12 6.23">0.0</text><text transform="translate(483.18 104.9) scale(1.3 1)" x="0 3.12 6.23">0.2</text><text transform="translate(483.18 83.07) scale(1.3 1)" x="0 3.12 6.23">0.4</text><text transform="translate(483.18 61.23) scale(1.3 1)" x="0 3.12 6.23">0.6</text><text transform="translate(483.18 39.4) scale(1.3 1)" x="0 3.12 6.23">0.8</text><text transform="translate(483.18 17.56) scale(1.3 1)" x="0 3.12 6.23">1.0</text></g><rect x="502.75" y="82" width="88" height="45.2" rx="1.5" fill="#fff" fill-opacity="0.95" stroke="#e6e6e6" stroke-width="0.7"/><path d="M506.3 87.5H523.8" stroke="#e46868" stroke-width="1.3"/><text x="531" y="89.7" font-family="Liberation Mono" font-size="6.9" font-weight="normal" fill="#2e2e2e" stroke="#2e2e2e" stroke-width="0.2" textLength="45.9" lengthAdjust="spacingAndGlyphs">Thumbs UP</text><path d="M506.3 96.18H523.8" stroke="#6a9fd2" stroke-width="1.3"/><text x="531" y="98.38" font-family="Liberation Mono" font-size="6.9" font-weight="normal" fill="#2e2e2e" stroke="#2e2e2e" stroke-width="0.2" textLength="56.1" lengthAdjust="spacingAndGlyphs">Thumbs Down</text><path d="M506.3 104.86H523.8" stroke="#c6e6c0" stroke-width="1.3"/><text x="531" y="107.06" font-family="Liberation Mono" font-size="6.9" font-weight="normal" fill="#2e2e2e" stroke="#2e2e2e" stroke-width="0.2" textLength="51" lengthAdjust="spacingAndGlyphs">Left Swipe</text><path d="M506.3 113.54H523.8" stroke="#bc8fd2" stroke-width="1.3"/><text x="531" y="115.74" font-family="Liberation Mono" font-size="6.9" font-weight="normal" fill="#2e2e2e" stroke="#2e2e2e" stroke-width="0.2" textLength="56.1" lengthAdjust="spacingAndGlyphs">Right Swipe</text><path d="M506.3 122.22H523.8" stroke="#ffa54d" stroke-width="1.3"/><text x="531" y="124.42" font-family="Liberation Mono" font-size="6.9" font-weight="normal" fill="#2e2e2e" stroke="#2e2e2e" stroke-width="0.2" textLength="20.4" lengthAdjust="spacingAndGlyphs">Stop</text><text x="508.1" y="5.25" font-family="Liberation Sans" font-weight="bold" font-size="6.9" fill="#2a2a2a" stroke="#2a2a2a" stroke-width="0.3" textLength="165.9" lengthAdjust="spacingAndGlyphs">Precision-Recall Curve (Epoch :1500)</text><text x="591.4" y="147.5" text-anchor="middle" font-family="Liberation Mono" font-size="5.8" fill="#444" stroke="#444" stroke-width="0.12" textLength="24.6" lengthAdjust="spacingAndGlyphs">Recall</text><text transform="translate(472.5 71.05) rotate(-90)" x="0" y="0" text-anchor="middle" font-family="Liberation Mono" font-size="7.0" fill="#4a4a4a" textLength="25.3" lengthAdjust="spacingAndGlyphs">Precision</text><text x="584.5" y="157.6" text-anchor="middle" font-family="Liberation Serif" font-size="7.4" fill="#383838" textLength="10.5" lengthAdjust="spacingAndGlyphs">(c)</text></g>
<g><defs><clipPath id="cp3"><rect x="32.3" y="172.2" width="185.2" height="119.6"/></clipPath></defs><path d="M32.3 172.2V291.8M36.51 172.2V291.8M44.93 172.2V291.8M49.14 172.2V291.8M53.35 172.2V291.8M57.55 172.2V291.8M65.97 172.2V291.8M70.18 172.2V291.8M74.39 172.2V291.8M78.6 172.2V291.8M87.02 172.2V291.8M91.23 172.2V291.8M95.44 172.2V291.8M99.65 172.2V291.8M108.06 172.2V291.8M112.27 172.2V291.8M116.48 172.2V291.8M120.69 172.2V291.8M129.11 172.2V291.8M133.32 172.2V291.8M137.53 172.2V291.8M141.74 172.2V291.8M150.15 172.2V291.8M154.36 172.2V291.8M158.57 172.2V291.8M162.78 172.2V291.8M171.2 172.2V291.8M175.41 172.2V291.8M179.62 172.2V291.8M183.83 172.2V291.8M192.25 172.2V291.8M196.45 172.2V291.8M200.66 172.2V291.8M204.87 172.2V291.8M213.29 172.2V291.8M217.5 172.2V291.8M32.3 291.8H217.5M32.3 280.93H217.5M32.3 275.49H217.5M32.3 270.05H217.5M32.3 259.18H217.5M32.3 253.75H217.5M32.3 248.31H217.5M32.3 237.44H217.5M32.3 232H217.5M32.3 226.56H217.5M32.3 215.69H217.5M32.3 210.25H217.5M32.3 204.82H217.5M32.3 193.95H217.5M32.3 188.51H217.5M32.3 183.07H217.5M32.3 172.2H217.5" stroke="#f0f0f0" stroke-width="0.7" fill="none"/><path d="M32.3 286.36H217.5M32.3 264.62H217.5M32.3 242.87H217.5M32.3 221.13H217.5M32.3 199.38H217.5M32.3 177.64H217.5" stroke="#e8e8e8" stroke-width="1" fill="none"/><path d="M32.3 286.36H217.5M32.3 264.62H217.5M32.3 242.87H217.5M32.3 221.13H217.5M32.3 199.38H217.5M32.3 177.64H217.5" stroke="#d0d0d0" stroke-width="1" stroke-dasharray="1.1 1.15" fill="none"/><path d="M40.72 172.2V291.8M61.76 172.2V291.8M82.81 172.2V291.8M103.85 172.2V291.8M124.9 172.2V291.8M145.95 172.2V291.8M166.99 172.2V291.8M188.04 172.2V291.8M209.08 172.2V291.8" stroke="#d2d2d2" stroke-width="1" fill="none"/><path d="M40.72 172.2V291.8M61.76 172.2V291.8M82.81 172.2V291.8M103.85 172.2V291.8M124.9 172.2V291.8M145.95 172.2V291.8M166.99 172.2V291.8M188.04 172.2V291.8M209.08 172.2V291.8" stroke="#a4a4a4" stroke-width="1" stroke-dasharray="1.3 1.5" fill="none"/><g clip-path="url(#cp3)" fill="none" stroke-width="1.0" stroke-linejoin="round" stroke-linecap="round"><defs><linearGradient id="lg3" gradientUnits="userSpaceOnUse" x1="156.47" y1="0" x2="177.51" y2="0"><stop offset="0" stop-color="#000"/><stop offset="1" stop-color="#fff"/></linearGradient><mask id="mk3" maskUnits="userSpaceOnUse" x="0" y="0" width="685" height="320"><rect x="0" y="0" width="685" height="320" fill="url(#lg3)"/></mask></defs><g mask="url(#mk3)"><path d="M156.47 178.65C157.87 178.61 160.99 178.42 164.89 178.4C168.78 178.37 175.65 178.4 179.83 178.51C184 178.61 187.26 178.85 189.93 179.05C192.6 179.25 194.17 179.41 195.82 179.7C197.47 179.99 198.63 180.26 199.82 180.79C201.01 181.31 202.14 182.08 202.98 182.86C203.82 183.63 204.35 184.52 204.87 185.46C205.4 186.41 205.82 187.28 206.14 188.51C206.45 189.74 206.56 190.86 206.77 192.86C206.98 194.85 207.22 195.76 207.4 200.47C207.57 205.18 207.84 216.96 207.82 221.13C207.8 225.3 207.3 222.76 207.28 225.48C207.27 228.19 207.55 232.72 207.73 237.44C207.9 242.15 208.17 249.58 208.33 253.75C208.48 257.91 208.57 257.01 208.65 262.44C208.73 267.88 208.78 282.38 208.8 286.36" stroke="#d62728"/><path d="M156.47 178.65C157.87 178.61 160.99 178.44 164.89 178.4C168.78 178.36 175.65 178.31 179.83 178.4C184 178.49 187.26 178.74 189.93 178.94C192.6 179.14 194.17 179.3 195.82 179.59C197.47 179.88 198.63 180.16 199.82 180.68C201.01 181.21 202.14 181.99 202.98 182.75C203.82 183.51 204.38 184.29 204.87 185.25C205.36 186.21 205.68 187.24 205.93 188.51C206.17 189.78 206.24 190.86 206.35 192.86C206.45 194.85 206.45 195.03 206.56 200.47C206.66 205.91 206.88 219.32 206.97 225.48C207.05 231.64 207.04 232.72 207.08 237.44C207.13 242.15 207.2 249.58 207.24 253.75C207.28 257.91 207.32 260.05 207.32 262.44C207.33 264.84 207.47 266 207.29 268.1C207.11 270.2 206.31 273.39 206.24 275.06C206.17 276.72 207.01 276.92 206.87 278.1C206.73 279.28 205.82 280.87 205.4 282.12C204.98 283.37 205.12 285.02 204.35 285.6C203.57 286.18 201.36 285.6 200.77 285.6" stroke="#1f77b4"/><path d="M156.47 178.65C157.87 178.61 160.99 178.44 164.89 178.4C168.78 178.36 175.65 178.31 179.83 178.4C184 178.49 187.26 178.74 189.93 178.94C192.6 179.14 194.17 179.32 195.82 179.59C197.47 179.87 198.63 180.08 199.82 180.57C201.01 181.06 202.1 181.75 202.98 182.53C203.86 183.31 204.52 184.25 205.08 185.25C205.64 186.24 206.03 187.24 206.35 188.51C206.66 189.78 206.8 190.86 206.98 192.86C207.15 194.85 207.3 195.03 207.4 200.47C207.49 205.91 207.51 219.32 207.56 225.48C207.6 231.64 207.63 232.72 207.67 237.44C207.72 242.15 207.79 249.58 207.83 253.75C207.87 257.91 207.9 258.82 207.91 262.44C207.93 266.07 207.95 271.87 207.91 275.49C207.88 279.12 207.74 282.74 207.7 284.19" stroke="#2ca02c"/><path d="M156.47 178.65C157.87 178.57 160.99 178.26 164.89 178.18C168.78 178.1 175.65 178.07 179.83 178.18C184 178.29 187.26 178.61 189.93 178.83C192.6 179.05 194.17 179.21 195.82 179.48C197.47 179.76 198.63 179.96 199.82 180.46C201.01 180.97 202.14 181.77 202.98 182.53C203.82 183.29 204.35 184.12 204.87 185.03C205.4 185.94 205.85 186.81 206.14 187.97C206.42 189.13 206.45 189.98 206.56 191.99C206.66 194 206.75 194.45 206.77 200.03C206.78 205.62 206.65 219.24 206.65 225.48C206.65 231.71 206.72 232.72 206.77 237.44C206.81 242.15 206.88 249.58 206.92 253.75C206.96 257.91 207 260.63 207.01 262.44C207.02 264.26 207 261.03 206.99 264.62C206.99 268.21 207.17 280.56 206.99 283.97C206.82 287.38 205.84 284.81 205.94 285.06C206.05 285.31 207.35 285.42 207.63 285.49" stroke="#9467bd"/></g><path d="M40.72 177.64C51.24 177.73 83.16 178 103.85 178.18C124.55 178.36 152.22 178.58 164.89 178.72C177.55 178.87 175.65 178.9 179.83 179.05C184 179.19 187.26 179.38 189.93 179.59C192.6 179.81 194.17 180.03 195.82 180.35C197.47 180.68 198.73 181.03 199.82 181.55C200.91 182.08 201.58 182.76 202.35 183.51C203.12 184.25 203.89 185.08 204.45 186.01C205.01 186.93 205.4 187.89 205.71 189.05C206.03 190.21 206.21 191.14 206.35 192.97C206.49 194.8 206.49 197.86 206.56 200.03C206.63 202.21 206.56 201.77 206.77 206.01C206.98 210.25 207.62 220.24 207.81 225.48C208 230.71 207.88 232.72 207.92 237.44C207.97 242.15 208.04 249.58 208.08 253.75C208.12 257.91 208.14 260.63 208.17 262.44C208.19 264.26 208.15 260.63 208.24 264.62C208.32 268.6 208.59 282.74 208.66 286.36" stroke="#ff7f0e"/></g><path d="M31.9 172.2H217.9M31.9 291.8H217.9" stroke="#c8c8c8" stroke-width="0.8" fill="none"/><path d="M32.3 171.8V292.2M217.5 171.8V292.2" stroke="#a0a0a0" stroke-width="0.9" fill="none"/><path d="M40.72 291.8v2.5M61.76 291.8v2.5M82.81 291.8v2.5M103.85 291.8v2.5M124.9 291.8v2.5M145.95 291.8v2.5M166.99 291.8v2.5M188.04 291.8v2.5M209.08 291.8v2.5M32.3 286.36h-3.3M32.3 264.62h-3.3M32.3 242.87h-3.3M32.3 221.13h-3.3M32.3 199.38h-3.3M32.3 177.64h-3.3" stroke="#808080" stroke-width="0.8" fill="none"/><path d="M32.3 291.8v1.4M36.51 291.8v1.4M44.93 291.8v1.4M49.14 291.8v1.4M53.35 291.8v1.4M57.55 291.8v1.4M65.97 291.8v1.4M70.18 291.8v1.4M74.39 291.8v1.4M78.6 291.8v1.4M87.02 291.8v1.4M91.23 291.8v1.4M95.44 291.8v1.4M99.65 291.8v1.4M108.06 291.8v1.4M112.27 291.8v1.4M116.48 291.8v1.4M120.69 291.8v1.4M129.11 291.8v1.4M133.32 291.8v1.4M137.53 291.8v1.4M141.74 291.8v1.4M150.15 291.8v1.4M154.36 291.8v1.4M158.57 291.8v1.4M162.78 291.8v1.4M171.2 291.8v1.4M175.41 291.8v1.4M179.62 291.8v1.4M183.83 291.8v1.4M192.25 291.8v1.4M196.45 291.8v1.4M200.66 291.8v1.4M204.87 291.8v1.4M213.29 291.8v1.4M217.5 291.8v1.4M32.3 291.8h-1.4M32.3 280.93h-1.4M32.3 275.49h-1.4M32.3 270.05h-1.4M32.3 259.18h-1.4M32.3 253.75h-1.4M32.3 248.31h-1.4M32.3 237.44h-1.4M32.3 232h-1.4M32.3 226.56h-1.4M32.3 215.69h-1.4M32.3 210.25h-1.4M32.3 204.82h-1.4M32.3 193.95h-1.4M32.3 188.51h-1.4M32.3 183.07h-1.4M32.3 172.2h-1.4" stroke="#909090" stroke-width="0.6" fill="none"/><g font-family="Liberation Sans" font-weight="bold" font-size="5.0" text-anchor="middle" fill="#686868" stroke="#686868" stroke-width="0"><text transform="translate(36.67 298.9) scale(1.3 1)" x="0 3.12 6.23">0.2</text><text transform="translate(57.71 298.9) scale(1.3 1)" x="0 3.12 6.23">0.3</text><text transform="translate(78.76 298.9) scale(1.3 1)" x="0 3.12 6.23">0.4</text><text transform="translate(99.8 298.9) scale(1.3 1)" x="0 3.12 6.23">0.5</text><text transform="translate(120.85 298.9) scale(1.3 1)" x="0 3.12 6.23">0.6</text><text transform="translate(141.9 298.9) scale(1.3 1)" x="0 3.12 6.23">0.7</text><text transform="translate(162.94 298.9) scale(1.3 1)" x="0 3.12 6.23">0.8</text><text transform="translate(183.99 298.9) scale(1.3 1)" x="0 3.12 6.23">0.9</text><text transform="translate(205.03 298.9) scale(1.3 1)" x="0 3.12 6.23">1.0</text><text transform="translate(16.67 288.16) scale(1.3 1)" x="0 3.12 6.23">0.0</text><text transform="translate(16.67 266.42) scale(1.3 1)" x="0 3.12 6.23">0.2</text><text transform="translate(16.67 244.67) scale(1.3 1)" x="0 3.12 6.23">0.4</text><text transform="translate(16.67 222.93) scale(1.3 1)" x="0 3.12 6.23">0.6</text><text transform="translate(16.67 201.18) scale(1.3 1)" x="0 3.12 6.23">0.8</text><text transform="translate(16.67 179.44) scale(1.3 1)" x="0 3.12 6.23">1.0</text></g><rect x="36.25" y="243.4" width="88" height="45.2" rx="1.5" fill="#fff" fill-opacity="0.95" stroke="#e6e6e6" stroke-width="0.7"/><path d="M39.8 248.9H57.3" stroke="#f2a2a2" stroke-width="1.3"/><text x="64.5" y="251.1" font-family="Liberation Mono" font-size="6.9" font-weight="normal" fill="#2e2e2e" stroke="#2e2e2e" stroke-width="0.2" textLength="45.9" lengthAdjust="spacingAndGlyphs">Thumbs UP</text><path d="M39.8 257.58H57.3" stroke="#74a6da" stroke-width="1.3"/><text x="64.5" y="259.78" font-family="Liberation Mono" font-size="6.9" font-weight="normal" fill="#2e2e2e" stroke="#2e2e2e" stroke-width="0.2" textLength="56.1" lengthAdjust="spacingAndGlyphs">Thumbs Down</text><path d="M39.8 266.26H57.3" stroke="#70c070" stroke-width="1.3"/><text x="64.5" y="268.46" font-family="Liberation Mono" font-size="6.9" font-weight="normal" fill="#2e2e2e" stroke="#2e2e2e" stroke-width="0.2" textLength="51" lengthAdjust="spacingAndGlyphs">Left Swipe</text><path d="M39.8 274.94H57.3" stroke="#d2a8e2" stroke-width="1.3"/><text x="64.5" y="277.14" font-family="Liberation Mono" font-size="6.9" font-weight="normal" fill="#2e2e2e" stroke="#2e2e2e" stroke-width="0.2" textLength="56.1" lengthAdjust="spacingAndGlyphs">Right Swipe</text><path d="M39.8 283.62H57.3" stroke="#ffaa55" stroke-width="1.3"/><text x="64.5" y="285.82" font-family="Liberation Mono" font-size="6.9" font-weight="normal" fill="#2e2e2e" stroke="#2e2e2e" stroke-width="0.2" textLength="20.4" lengthAdjust="spacingAndGlyphs">Stop</text><text x="39.9" y="166.8" font-family="Liberation Sans" font-weight="bold" font-size="6.9" fill="#2a2a2a" stroke="#2a2a2a" stroke-width="0.3" textLength="168.8" lengthAdjust="spacingAndGlyphs">Precision-Recall Curve (Epoch : 2000)</text><text x="124.9" y="308.9" text-anchor="middle" font-family="Liberation Mono" font-size="5.8" fill="#444" stroke="#444" stroke-width="0.12" textLength="24.6" lengthAdjust="spacingAndGlyphs">Recall</text><text transform="translate(6 232.7) rotate(-90)" x="0" y="0" text-anchor="middle" font-family="Liberation Mono" font-size="7.0" fill="#4a4a4a" textLength="25.3" lengthAdjust="spacingAndGlyphs">Precision</text><text x="118" y="319" text-anchor="middle" font-family="Liberation Serif" font-size="7.4" fill="#383838" textLength="10.5" lengthAdjust="spacingAndGlyphs">(d)</text></g>
<g><defs><clipPath id="cp4"><rect x="265.4" y="172.2" width="185.2" height="119.6"/></clipPath></defs><path d="M265.4 172.2V291.8M269.61 172.2V291.8M278.03 172.2V291.8M282.24 172.2V291.8M286.45 172.2V291.8M290.65 172.2V291.8M299.07 172.2V291.8M303.28 172.2V291.8M307.49 172.2V291.8M311.7 172.2V291.8M320.12 172.2V291.8M324.33 172.2V291.8M328.54 172.2V291.8M332.75 172.2V291.8M341.16 172.2V291.8M345.37 172.2V291.8M349.58 172.2V291.8M353.79 172.2V291.8M362.21 172.2V291.8M366.42 172.2V291.8M370.63 172.2V291.8M374.84 172.2V291.8M383.25 172.2V291.8M387.46 172.2V291.8M391.67 172.2V291.8M395.88 172.2V291.8M404.3 172.2V291.8M408.51 172.2V291.8M412.72 172.2V291.8M416.93 172.2V291.8M425.35 172.2V291.8M429.55 172.2V291.8M433.76 172.2V291.8M437.97 172.2V291.8M446.39 172.2V291.8M450.6 172.2V291.8M265.4 291.8H450.6M265.4 280.93H450.6M265.4 275.49H450.6M265.4 270.05H450.6M265.4 259.18H450.6M265.4 253.75H450.6M265.4 248.31H450.6M265.4 237.44H450.6M265.4 232H450.6M265.4 226.56H450.6M265.4 215.69H450.6M265.4 210.25H450.6M265.4 204.82H450.6M265.4 193.95H450.6M265.4 188.51H450.6M265.4 183.07H450.6M265.4 172.2H450.6" stroke="#f0f0f0" stroke-width="0.7" fill="none"/><path d="M265.4 286.36H450.6M265.4 264.62H450.6M265.4 242.87H450.6M265.4 221.13H450.6M265.4 199.38H450.6M265.4 177.64H450.6" stroke="#e8e8e8" stroke-width="1" fill="none"/><path d="M265.4 286.36H450.6M265.4 264.62H450.6M265.4 242.87H450.6M265.4 221.13H450.6M265.4 199.38H450.6M265.4 177.64H450.6" stroke="#d0d0d0" stroke-width="1" stroke-dasharray="1.1 1.15" fill="none"/><path d="M273.82 172.2V291.8M294.86 172.2V291.8M315.91 172.2V291.8M336.95 172.2V291.8M358 172.2V291.8M379.05 172.2V291.8M400.09 172.2V291.8M421.14 172.2V291.8M442.18 172.2V291.8" stroke="#d2d2d2" stroke-width="1" fill="none"/><path d="M273.82 172.2V291.8M294.86 172.2V291.8M315.91 172.2V291.8M336.95 172.2V291.8M358 172.2V291.8M379.05 172.2V291.8M400.09 172.2V291.8M421.14 172.2V291.8M442.18 172.2V291.8" stroke="#a4a4a4" stroke-width="1" stroke-dasharray="1.3 1.5" fill="none"/><g clip-path="url(#cp4)" fill="none" stroke-width="1.0" stroke-linejoin="round" stroke-linecap="round"><defs><linearGradient id="lg4" gradientUnits="userSpaceOnUse" x1="389.57" y1="0" x2="410.61" y2="0"><stop offset="0" stop-color="#000"/><stop offset="1" stop-color="#fff"/></linearGradient><mask id="mk4" maskUnits="userSpaceOnUse" x="0" y="0" width="685" height="320"><rect x="0" y="0" width="685" height="320" fill="url(#lg4)"/></mask></defs><g mask="url(#mk4)"><path d="M389.57 178.35C390.97 178.32 393.92 178.21 397.99 178.18C402.06 178.15 409.67 178.11 413.98 178.18C418.3 178.25 421.21 178.43 423.87 178.61C426.54 178.8 428.29 179.07 429.98 179.27C431.66 179.47 432.82 179.47 433.97 179.81C435.13 180.16 436.11 180.72 436.92 181.33C437.73 181.95 438.29 182.64 438.81 183.51C439.34 184.38 439.76 185.36 440.08 186.55C440.39 187.75 440.53 188.44 440.71 190.68C440.88 192.93 441.04 194.24 441.13 200.03C441.22 205.83 441.13 219.24 441.22 225.48C441.31 231.71 441.49 232.72 441.67 237.44C441.84 242.15 442.12 249.58 442.27 253.75C442.42 257.91 442.53 260.63 442.59 262.44C442.65 264.26 442.65 260.63 442.62 264.62C442.59 268.6 442.43 282.74 442.39 286.36" stroke="#d62728"/><path d="M389.57 178.35C390.97 178.31 393.92 178.14 397.99 178.07C402.06 178.01 409.67 177.91 413.98 177.96C418.3 178.02 421.21 178.22 423.87 178.4C426.54 178.58 428.29 178.87 429.98 179.05C431.66 179.23 432.82 179.16 433.97 179.48C435.13 179.81 436.11 180.43 436.92 181.01C437.73 181.59 438.29 182.13 438.81 182.96C439.34 183.8 439.76 184.83 440.08 186.01C440.39 187.19 440.6 187.69 440.71 190.03C440.81 192.37 440.68 194.13 440.71 200.03C440.74 205.94 440.86 219.24 440.91 225.48C440.96 231.71 440.98 232.72 441.02 237.44C441.07 242.15 441.14 249.58 441.18 253.75C441.22 257.91 441.27 260.05 441.27 262.44C441.26 264.84 441.15 266.29 441.17 268.1C441.19 269.91 441.41 271.9 441.38 273.32C441.34 274.73 440.99 275.45 440.96 276.58C440.92 277.7 441.38 278.81 441.17 280.06C440.96 281.31 440.29 283.16 439.69 284.08C439.1 285 438.29 285.22 437.59 285.6C436.89 285.98 437.48 286.24 435.49 286.36C433.49 286.49 427.24 286.36 425.59 286.36" stroke="#1f77b4"/><path d="M389.57 178.35C390.97 178.32 393.92 178.23 397.99 178.18C402.06 178.13 409.67 178.02 413.98 178.07C418.3 178.13 421.21 178.32 423.87 178.51C426.54 178.69 428.29 178.96 429.98 179.16C431.66 179.36 432.82 179.36 433.97 179.7C435.13 180.05 436.11 180.63 436.92 181.22C437.73 181.82 438.29 182.44 438.81 183.29C439.34 184.14 439.76 185.16 440.08 186.33C440.39 187.51 440.57 188.07 440.71 190.36C440.85 192.64 440.79 194.18 440.92 200.03C441.05 205.89 441.38 219.24 441.5 225.48C441.61 231.71 441.57 232.72 441.61 237.44C441.66 242.15 441.73 249.58 441.77 253.75C441.81 257.91 441.84 258.82 441.86 262.44C441.87 266.07 441.89 271.87 441.86 275.49C441.82 279.12 441.68 282.74 441.65 284.19" stroke="#2ca02c"/><path d="M389.57 178.35C390.97 178.31 393.92 178.14 397.99 178.07C402.06 178.01 409.67 177.91 413.98 177.96C418.3 178.02 421.21 178.22 423.87 178.4C426.54 178.58 428.29 178.87 429.98 179.05C431.66 179.23 432.82 179.16 433.97 179.48C435.13 179.81 436.11 180.43 436.92 181.01C437.73 181.59 438.29 182.13 438.81 182.96C439.34 183.8 439.8 184.83 440.08 186.01C440.36 187.19 440.43 187.69 440.5 190.03C440.57 192.37 440.48 194.13 440.5 200.03C440.51 205.94 440.56 219.24 440.59 225.48C440.63 231.71 440.66 232.72 440.71 237.44C440.75 242.15 440.83 249.58 440.87 253.75C440.91 257.91 440.94 260.63 440.95 262.44C440.96 264.26 440.94 261.18 440.94 264.62C440.93 268.06 441.25 279.7 440.94 283.1C440.62 286.51 438.94 284.62 439.04 285.06C439.15 285.49 441.15 285.6 441.57 285.71" stroke="#9467bd"/></g><path d="M273.82 177.64C284.34 177.71 316.26 177.94 336.95 178.07C357.65 178.2 385.15 178.27 397.99 178.4C410.82 178.52 409.67 178.69 413.98 178.83C418.3 178.98 421.21 179.09 423.87 179.27C426.54 179.45 428.29 179.72 429.98 179.92C431.66 180.12 432.82 180.12 433.97 180.46C435.13 180.81 436.11 181.22 436.92 181.99C437.73 182.75 438.32 184.03 438.81 185.03C439.31 186.03 439.62 186.81 439.87 187.97C440.11 189.13 440.18 189.98 440.29 191.99C440.39 194 440.43 197.7 440.5 200.03C440.57 202.37 440.5 201.77 440.71 206.01C440.92 210.25 441.56 220.24 441.75 225.48C441.94 230.71 441.82 232.72 441.87 237.44C441.91 242.15 441.98 249.58 442.02 253.75C442.06 257.91 442.09 260.63 442.11 262.44C442.13 264.26 442.1 260.63 442.15 264.62C442.2 268.6 442.35 282.74 442.39 286.36" stroke="#ff7f0e"/></g><path d="M265 172.2H451M265 291.8H451" stroke="#c8c8c8" stroke-width="0.8" fill="none"/><path d="M265.4 171.8V292.2M450.6 171.8V292.2" stroke="#a0a0a0" stroke-width="0.9" fill="none"/><path d="M273.82 291.8v2.5M294.86 291.8v2.5M315.91 291.8v2.5M336.95 291.8v2.5M358 291.8v2.5M379.05 291.8v2.5M400.09 291.8v2.5M421.14 291.8v2.5M442.18 291.8v2.5M265.4 286.36h-3.3M265.4 264.62h-3.3M265.4 242.87h-3.3M265.4 221.13h-3.3M265.4 199.38h-3.3M265.4 177.64h-3.3" stroke="#808080" stroke-width="0.8" fill="none"/><path d="M265.4 291.8v1.4M269.61 291.8v1.4M278.03 291.8v1.4M282.24 291.8v1.4M286.45 291.8v1.4M290.65 291.8v1.4M299.07 291.8v1.4M303.28 291.8v1.4M307.49 291.8v1.4M311.7 291.8v1.4M320.12 291.8v1.4M324.33 291.8v1.4M328.54 291.8v1.4M332.75 291.8v1.4M341.16 291.8v1.4M345.37 291.8v1.4M349.58 291.8v1.4M353.79 291.8v1.4M362.21 291.8v1.4M366.42 291.8v1.4M370.63 291.8v1.4M374.84 291.8v1.4M383.25 291.8v1.4M387.46 291.8v1.4M391.67 291.8v1.4M395.88 291.8v1.4M404.3 291.8v1.4M408.51 291.8v1.4M412.72 291.8v1.4M416.93 291.8v1.4M425.35 291.8v1.4M429.55 291.8v1.4M433.76 291.8v1.4M437.97 291.8v1.4M446.39 291.8v1.4M450.6 291.8v1.4M265.4 291.8h-1.4M265.4 280.93h-1.4M265.4 275.49h-1.4M265.4 270.05h-1.4M265.4 259.18h-1.4M265.4 253.75h-1.4M265.4 248.31h-1.4M265.4 237.44h-1.4M265.4 232h-1.4M265.4 226.56h-1.4M265.4 215.69h-1.4M265.4 210.25h-1.4M265.4 204.82h-1.4M265.4 193.95h-1.4M265.4 188.51h-1.4M265.4 183.07h-1.4M265.4 172.2h-1.4" stroke="#909090" stroke-width="0.6" fill="none"/><g font-family="Liberation Sans" font-weight="bold" font-size="5.0" text-anchor="middle" fill="#686868" stroke="#686868" stroke-width="0"><text transform="translate(269.77 298.9) scale(1.3 1)" x="0 3.12 6.23">0.2</text><text transform="translate(290.81 298.9) scale(1.3 1)" x="0 3.12 6.23">0.3</text><text transform="translate(311.86 298.9) scale(1.3 1)" x="0 3.12 6.23">0.4</text><text transform="translate(332.9 298.9) scale(1.3 1)" x="0 3.12 6.23">0.5</text><text transform="translate(353.95 298.9) scale(1.3 1)" x="0 3.12 6.23">0.6</text><text transform="translate(375 298.9) scale(1.3 1)" x="0 3.12 6.23">0.7</text><text transform="translate(396.04 298.9) scale(1.3 1)" x="0 3.12 6.23">0.8</text><text transform="translate(417.09 298.9) scale(1.3 1)" x="0 3.12 6.23">0.9</text><text transform="translate(438.13 298.9) scale(1.3 1)" x="0 3.12 6.23">1.0</text><text transform="translate(249.77 288.16) scale(1.3 1)" x="0 3.12 6.23">0.0</text><text transform="translate(249.77 266.42) scale(1.3 1)" x="0 3.12 6.23">0.2</text><text transform="translate(249.77 244.67) scale(1.3 1)" x="0 3.12 6.23">0.4</text><text transform="translate(249.77 222.93) scale(1.3 1)" x="0 3.12 6.23">0.6</text><text transform="translate(249.77 201.18) scale(1.3 1)" x="0 3.12 6.23">0.8</text><text transform="translate(249.77 179.44) scale(1.3 1)" x="0 3.12 6.23">1.0</text></g><rect x="269.35" y="243.4" width="88" height="45.2" rx="1.5" fill="#fff" fill-opacity="0.95" stroke="#e6e6e6" stroke-width="0.7"/><path d="M272.9 248.9H290.4" stroke="#f2a2a2" stroke-width="1.3"/><text x="297.6" y="251.1" font-family="Liberation Mono" font-size="6.9" font-weight="normal" fill="#2e2e2e" stroke="#2e2e2e" stroke-width="0.2" textLength="45.9" lengthAdjust="spacingAndGlyphs">Thumbs UP</text><path d="M272.9 257.58H290.4" stroke="#74a6da" stroke-width="1.3"/><text x="297.6" y="259.78" font-family="Liberation Mono" font-size="6.9" font-weight="normal" fill="#2e2e2e" stroke="#2e2e2e" stroke-width="0.2" textLength="56.1" lengthAdjust="spacingAndGlyphs">Thumbs Down</text><path d="M272.9 266.26H290.4" stroke="#70c070" stroke-width="1.3"/><text x="297.6" y="268.46" font-family="Liberation Mono" font-size="6.9" font-weight="normal" fill="#2e2e2e" stroke="#2e2e2e" stroke-width="0.2" textLength="51" lengthAdjust="spacingAndGlyphs">Left Swipe</text><path d="M272.9 274.94H290.4" stroke="#d2a8e2" stroke-width="1.3"/><text x="297.6" y="277.14" font-family="Liberation Mono" font-size="6.9" font-weight="normal" fill="#2e2e2e" stroke="#2e2e2e" stroke-width="0.2" textLength="56.1" lengthAdjust="spacingAndGlyphs">Right Swipe</text><path d="M272.9 283.62H290.4" stroke="#ffaa55" stroke-width="1.3"/><text x="297.6" y="285.82" font-family="Liberation Mono" font-size="6.9" font-weight="normal" fill="#2e2e2e" stroke="#2e2e2e" stroke-width="0.2" textLength="20.4" lengthAdjust="spacingAndGlyphs">Stop</text><text x="273.4" y="166.8" font-family="Liberation Sans" font-weight="bold" font-size="6.9" fill="#2a2a2a" stroke="#2a2a2a" stroke-width="0.3" textLength="169.4" lengthAdjust="spacingAndGlyphs">Precision-Recall Curve (Epoch : 2500)</text><text x="358" y="308.9" text-anchor="middle" font-family="Liberation Mono" font-size="5.8" fill="#444" stroke="#444" stroke-width="0.12" textLength="24.6" lengthAdjust="spacingAndGlyphs">Recall</text><text transform="translate(239.1 232.7) rotate(-90)" x="0" y="0" text-anchor="middle" font-family="Liberation Mono" font-size="7.0" fill="#4a4a4a" textLength="25.3" lengthAdjust="spacingAndGlyphs">Precision</text><text x="351.1" y="319" text-anchor="middle" font-family="Liberation Serif" font-size="7.4" fill="#383838" textLength="10.5" lengthAdjust="spacingAndGlyphs">(e)</text></g>
<g><defs><clipPath id="cp5"><rect x="498.8" y="172.2" width="185.2" height="119.6"/></clipPath></defs><path d="M498.8 172.2V291.8M503.01 172.2V291.8M511.43 172.2V291.8M515.64 172.2V291.8M519.85 172.2V291.8M524.05 172.2V291.8M532.47 172.2V291.8M536.68 172.2V291.8M540.89 172.2V291.8M545.1 172.2V291.8M553.52 172.2V291.8M557.73 172.2V291.8M561.94 172.2V291.8M566.15 172.2V291.8M574.56 172.2V291.8M578.77 172.2V291.8M582.98 172.2V291.8M587.19 172.2V291.8M595.61 172.2V291.8M599.82 172.2V291.8M604.03 172.2V291.8M608.24 172.2V291.8M616.65 172.2V291.8M620.86 172.2V291.8M625.07 172.2V291.8M629.28 172.2V291.8M637.7 172.2V291.8M641.91 172.2V291.8M646.12 172.2V291.8M650.33 172.2V291.8M658.75 172.2V291.8M662.95 172.2V291.8M667.16 172.2V291.8M671.37 172.2V291.8M679.79 172.2V291.8M684 172.2V291.8M498.8 291.8H684M498.8 280.93H684M498.8 275.49H684M498.8 270.05H684M498.8 259.18H684M498.8 253.75H684M498.8 248.31H684M498.8 237.44H684M498.8 232H684M498.8 226.56H684M498.8 215.69H684M498.8 210.25H684M498.8 204.82H684M498.8 193.95H684M498.8 188.51H684M498.8 183.07H684M498.8 172.2H684" stroke="#f0f0f0" stroke-width="0.7" fill="none"/><path d="M498.8 286.36H684M498.8 264.62H684M498.8 242.87H684M498.8 221.13H684M498.8 199.38H684M498.8 177.64H684" stroke="#e8e8e8" stroke-width="1" fill="none"/><path d="M498.8 286.36H684M498.8 264.62H684M498.8 242.87H684M498.8 221.13H684M498.8 199.38H684M498.8 177.64H684" stroke="#d0d0d0" stroke-width="1" stroke-dasharray="1.1 1.15" fill="none"/><path d="M507.22 172.2V291.8M528.26 172.2V291.8M549.31 172.2V291.8M570.35 172.2V291.8M591.4 172.2V291.8M612.45 172.2V291.8M633.49 172.2V291.8M654.54 172.2V291.8M675.58 172.2V291.8" stroke="#d2d2d2" stroke-width="1" fill="none"/><path d="M507.22 172.2V291.8M528.26 172.2V291.8M549.31 172.2V291.8M570.35 172.2V291.8M591.4 172.2V291.8M612.45 172.2V291.8M633.49 172.2V291.8M654.54 172.2V291.8M675.58 172.2V291.8" stroke="#a4a4a4" stroke-width="1" stroke-dasharray="1.3 1.5" fill="none"/><g clip-path="url(#cp5)" fill="none" stroke-width="1.0" stroke-linejoin="round" stroke-linecap="round"><defs><linearGradient id="lg5" gradientUnits="userSpaceOnUse" x1="622.97" y1="0" x2="644.01" y2="0"><stop offset="0" stop-color="#000"/><stop offset="1" stop-color="#fff"/></linearGradient><mask id="mk5" maskUnits="userSpaceOnUse" x="0" y="0" width="685" height="320"><rect x="0" y="0" width="685" height="320" fill="url(#lg5)"/></mask></defs><g mask="url(#mk5)"><path d="M622.97 178.24C624.37 178.21 627.21 178.1 631.39 178.07C635.56 178.04 643.59 178.02 648.01 178.07C652.43 178.13 655.24 178.25 657.9 178.4C660.57 178.54 662.15 178.72 664.01 178.94C665.87 179.16 667.72 179.39 669.06 179.7C670.39 180.01 671.27 180.32 672 180.79C672.74 181.26 673.13 181.79 673.48 182.53C673.83 183.27 673.93 184.25 674.11 185.25C674.28 186.24 674.42 186.88 674.53 188.51C674.63 190.14 674.76 188.87 674.74 195.03C674.72 201.19 674.39 218.41 674.41 225.48C674.43 232.54 674.68 232.72 674.86 237.44C675.03 242.15 675.31 249.58 675.46 253.75C675.61 257.91 675.72 260.63 675.78 262.44C675.84 264.26 675.81 260.63 675.81 264.62C675.81 268.6 675.8 282.74 675.79 286.36" stroke="#d62728"/><path d="M622.97 178.24C624.37 178.2 627.21 178.01 631.39 177.96C635.56 177.92 643.59 177.91 648.01 177.96C652.43 178.02 655.24 178.14 657.9 178.29C660.57 178.43 662.15 178.63 664.01 178.83C665.87 179.03 667.72 179.21 669.06 179.48C670.39 179.76 671.27 180.05 672 180.46C672.74 180.88 673.13 181.31 673.48 181.99C673.83 182.66 673.9 183.49 674.11 184.49C674.32 185.48 674.63 186.21 674.74 187.97C674.85 189.72 674.85 188.78 674.74 195.03C674.63 201.28 674.19 218.41 674.1 225.48C674.01 232.54 674.17 232.72 674.21 237.44C674.26 242.15 674.33 249.58 674.37 253.75C674.41 257.91 674.44 260.63 674.46 262.44C674.47 264.26 674.44 262.03 674.44 264.62C674.44 267.21 674.69 275.09 674.44 277.99C674.2 280.89 673.46 281.02 672.97 282.01C672.48 283.01 671.5 283.39 671.5 283.97C671.5 284.55 672.72 285.24 672.97 285.49" stroke="#1f77b4"/><path d="M622.97 178.24C624.37 178.21 627.21 178.1 631.39 178.07C635.56 178.04 643.59 178.02 648.01 178.07C652.43 178.13 655.24 178.25 657.9 178.4C660.57 178.54 662.15 178.74 664.01 178.94C665.87 179.14 667.72 179.3 669.06 179.59C670.39 179.88 671.27 180.23 672 180.68C672.74 181.13 673.09 181.6 673.48 182.31C673.86 183.02 674.11 183.89 674.32 184.92C674.53 185.95 674.63 186.82 674.74 188.51C674.85 190.19 674.96 188.87 674.95 195.03C674.94 201.19 674.71 218.41 674.69 225.48C674.66 232.54 674.76 232.72 674.8 237.44C674.85 242.15 674.92 249.58 674.96 253.75C675 257.91 675.03 258.73 675.05 262.44C675.06 266.16 675.05 273.77 675.05 276.03" stroke="#2ca02c"/><path d="M622.97 178.24C624.37 178.2 627.21 178.01 631.39 177.96C635.56 177.92 643.59 177.91 648.01 177.96C652.43 178.02 655.24 178.14 657.9 178.29C660.57 178.43 662.15 178.63 664.01 178.83C665.87 179.03 667.72 179.21 669.06 179.48C670.39 179.76 671.27 180.05 672 180.46C672.74 180.88 673.13 181.31 673.48 181.99C673.83 182.66 673.93 183.49 674.11 184.49C674.28 185.48 674.46 186.21 674.53 187.97C674.6 189.72 674.65 188.78 674.53 195.03C674.41 201.28 673.89 218.41 673.78 225.48C673.68 232.54 673.85 232.72 673.9 237.44C673.94 242.15 674.02 249.58 674.06 253.75C674.1 257.91 674.13 260.63 674.14 262.44C674.15 264.26 674.14 261.52 674.14 264.62C674.14 267.72 674.14 278.3 674.14 281.04" stroke="#9467bd"/></g><path d="M507.22 177.64C517.74 177.69 549.66 177.85 570.35 177.96C591.05 178.07 618.44 178.2 631.39 178.29C644.33 178.38 643.59 178.42 648.01 178.51C652.43 178.6 655.24 178.71 657.9 178.83C660.57 178.96 662.15 179.03 664.01 179.27C665.87 179.5 667.83 179.87 669.06 180.25C670.29 180.63 670.74 181.01 671.37 181.55C672 182.09 672.46 182.6 672.85 183.51C673.23 184.41 673.48 185.57 673.69 186.99C673.9 188.4 674.04 188.82 674.11 191.99C674.18 195.16 673.97 200.43 674.11 206.01C674.25 211.6 674.78 220.24 674.94 225.48C675.1 230.71 675.01 232.72 675.06 237.44C675.1 242.15 675.17 249.58 675.21 253.75C675.25 257.91 675.28 260.63 675.3 262.44C675.32 264.26 675.26 260.45 675.34 264.62C675.42 268.79 675.69 283.65 675.76 287.45" stroke="#ff7f0e"/></g><path d="M498.4 172.2H684.4M498.4 291.8H684.4" stroke="#c8c8c8" stroke-width="0.8" fill="none"/><path d="M498.8 171.8V292.2M684 171.8V292.2" stroke="#a0a0a0" stroke-width="0.9" fill="none"/><path d="M507.22 291.8v2.5M528.26 291.8v2.5M549.31 291.8v2.5M570.35 291.8v2.5M591.4 291.8v2.5M612.45 291.8v2.5M633.49 291.8v2.5M654.54 291.8v2.5M675.58 291.8v2.5M498.8 286.36h-3.3M498.8 264.62h-3.3M498.8 242.87h-3.3M498.8 221.13h-3.3M498.8 199.38h-3.3M498.8 177.64h-3.3" stroke="#808080" stroke-width="0.8" fill="none"/><path d="M498.8 291.8v1.4M503.01 291.8v1.4M511.43 291.8v1.4M515.64 291.8v1.4M519.85 291.8v1.4M524.05 291.8v1.4M532.47 291.8v1.4M536.68 291.8v1.4M540.89 291.8v1.4M545.1 291.8v1.4M553.52 291.8v1.4M557.73 291.8v1.4M561.94 291.8v1.4M566.15 291.8v1.4M574.56 291.8v1.4M578.77 291.8v1.4M582.98 291.8v1.4M587.19 291.8v1.4M595.61 291.8v1.4M599.82 291.8v1.4M604.03 291.8v1.4M608.24 291.8v1.4M616.65 291.8v1.4M620.86 291.8v1.4M625.07 291.8v1.4M629.28 291.8v1.4M637.7 291.8v1.4M641.91 291.8v1.4M646.12 291.8v1.4M650.33 291.8v1.4M658.75 291.8v1.4M662.95 291.8v1.4M667.16 291.8v1.4M671.37 291.8v1.4M679.79 291.8v1.4M684 291.8v1.4M498.8 291.8h-1.4M498.8 280.93h-1.4M498.8 275.49h-1.4M498.8 270.05h-1.4M498.8 259.18h-1.4M498.8 253.75h-1.4M498.8 248.31h-1.4M498.8 237.44h-1.4M498.8 232h-1.4M498.8 226.56h-1.4M498.8 215.69h-1.4M498.8 210.25h-1.4M498.8 204.82h-1.4M498.8 193.95h-1.4M498.8 188.51h-1.4M498.8 183.07h-1.4M498.8 172.2h-1.4" stroke="#909090" stroke-width="0.6" fill="none"/><g font-family="Liberation Sans" font-weight="bold" font-size="5.0" text-anchor="middle" fill="#686868" stroke="#686868" stroke-width="0"><text transform="translate(503.17 298.9) scale(1.3 1)" x="0 3.12 6.23">0.2</text><text transform="translate(524.21 298.9) scale(1.3 1)" x="0 3.12 6.23">0.3</text><text transform="translate(545.26 298.9) scale(1.3 1)" x="0 3.12 6.23">0.4</text><text transform="translate(566.3 298.9) scale(1.3 1)" x="0 3.12 6.23">0.5</text><text transform="translate(587.35 298.9) scale(1.3 1)" x="0 3.12 6.23">0.6</text><text transform="translate(608.4 298.9) scale(1.3 1)" x="0 3.12 6.23">0.7</text><text transform="translate(629.44 298.9) scale(1.3 1)" x="0 3.12 6.23">0.8</text><text transform="translate(650.49 298.9) scale(1.3 1)" x="0 3.12 6.23">0.9</text><text transform="translate(671.53 298.9) scale(1.3 1)" x="0 3.12 6.23">1.0</text><text transform="translate(483.18 288.16) scale(1.3 1)" x="0 3.12 6.23">0.0</text><text transform="translate(483.18 266.42) scale(1.3 1)" x="0 3.12 6.23">0.2</text><text transform="translate(483.18 244.67) scale(1.3 1)" x="0 3.12 6.23">0.4</text><text transform="translate(483.18 222.93) scale(1.3 1)" x="0 3.12 6.23">0.6</text><text transform="translate(483.18 201.18) scale(1.3 1)" x="0 3.12 6.23">0.8</text><text transform="translate(483.18 179.44) scale(1.3 1)" x="0 3.12 6.23">1.0</text></g><rect x="502.75" y="243.4" width="88" height="45.2" rx="1.5" fill="#fff" fill-opacity="0.95" stroke="#e6e6e6" stroke-width="0.7"/><path d="M506.3 248.9H523.8" stroke="#f2a2a2" stroke-width="1.3"/><text x="531" y="251.1" font-family="Liberation Mono" font-size="6.9" font-weight="normal" fill="#2e2e2e" stroke="#2e2e2e" stroke-width="0.2" textLength="45.9" lengthAdjust="spacingAndGlyphs">Thumbs UP</text><path d="M506.3 257.58H523.8" stroke="#74a6da" stroke-width="1.3"/><text x="531" y="259.78" font-family="Liberation Mono" font-size="6.9" font-weight="normal" fill="#2e2e2e" stroke="#2e2e2e" stroke-width="0.2" textLength="56.1" lengthAdjust="spacingAndGlyphs">Thumbs Down</text><path d="M506.3 266.26H523.8" stroke="#70c070" stroke-width="1.3"/><text x="531" y="268.46" font-family="Liberation Mono" font-size="6.9" font-weight="normal" fill="#2e2e2e" stroke="#2e2e2e" stroke-width="0.2" textLength="51" lengthAdjust="spacingAndGlyphs">Left Swipe</text><path d="M506.3 274.94H523.8" stroke="#d2a8e2" stroke-width="1.3"/><text x="531" y="277.14" font-family="Liberation Mono" font-size="6.9" font-weight="normal" fill="#2e2e2e" stroke="#2e2e2e" stroke-width="0.2" textLength="56.1" lengthAdjust="spacingAndGlyphs">Right Swipe</text><path d="M506.3 283.62H523.8" stroke="#ffaa55" stroke-width="1.3"/><text x="531" y="285.82" font-family="Liberation Mono" font-size="6.9" font-weight="normal" fill="#2e2e2e" stroke="#2e2e2e" stroke-width="0.2" textLength="20.4" lengthAdjust="spacingAndGlyphs">Stop</text><text x="506.9" y="166.8" font-family="Liberation Sans" font-weight="bold" font-size="6.9" fill="#2a2a2a" stroke="#2a2a2a" stroke-width="0.3" textLength="169.1" lengthAdjust="spacingAndGlyphs">Precision-Recall Curve (Epoch : 3000)</text><text x="591.4" y="308.9" text-anchor="middle" font-family="Liberation Mono" font-size="5.8" fill="#444" stroke="#444" stroke-width="0.12" textLength="24.6" lengthAdjust="spacingAndGlyphs">Recall</text><text transform="translate(472.5 232.7) rotate(-90)" x="0" y="0" text-anchor="middle" font-family="Liberation Mono" font-size="7.0" fill="#4a4a4a" textLength="25.3" lengthAdjust="spacingAndGlyphs">Precision</text><text x="584.5" y="319" text-anchor="middle" font-family="Liberation Serif" font-size="7.4" fill="#383838" textLength="10.5" lengthAdjust="spacingAndGlyphs">(f)</text></g>
</g></svg></body></html>
